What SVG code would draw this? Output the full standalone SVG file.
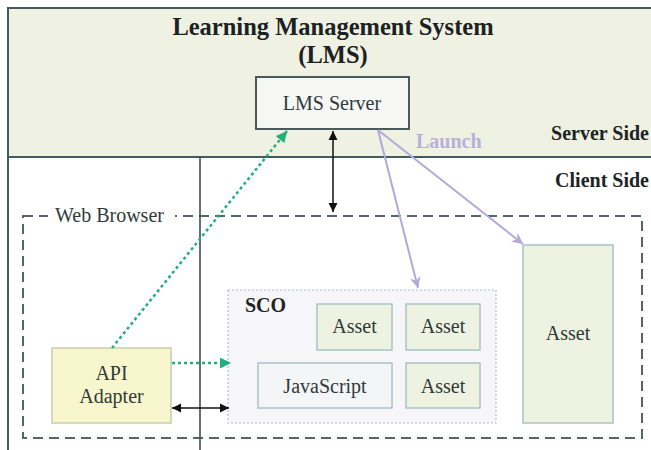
<svg xmlns="http://www.w3.org/2000/svg" width="651" height="450" viewBox="0 0 651 450">
<defs>
<marker id="ab" viewBox="0 0 10 10" refX="10" refY="5" markerWidth="9" markerHeight="10" markerUnits="userSpaceOnUse" orient="auto-start-reverse"><path d="M0,0 L10,5 L0,10 z" fill="#111"/></marker>
<marker id="ag" viewBox="0 0 10 10" refX="10" refY="5" markerWidth="12" markerHeight="11" markerUnits="userSpaceOnUse" orient="auto"><path d="M0,0 L10,5 L0,10 z" fill="#22b07a"/></marker>
<marker id="al" viewBox="0 0 10 10" refX="10" refY="5" markerWidth="13" markerHeight="11" markerUnits="userSpaceOnUse" orient="auto"><path d="M0,0 L10,5 L0,10 L3,5 z" fill="#b2a9da"/></marker>
<style>
text{font-family:"Liberation Serif","Times New Roman",serif;fill:#2f3a3a}
.t{font-size:20px}
.b{font-weight:bold}
.c{text-anchor:middle}
.asset{fill:#eef2e1;stroke:#a9c2c4;stroke-width:1.5}
.frame{fill:none;stroke:#445a62;stroke-width:2}
</style>
</defs>
<rect x="0" y="0" width="651" height="450" fill="#ffffff"/>
<g id="server-side">
<rect x="8" y="8" width="660" height="149" fill="#eff1e2"/>
<text x="333" y="35" class="b c" style="font-size:24.5px;fill:#1c2222">Learning Management System</text>
<text x="333" y="63" class="b c" style="font-size:24.5px;fill:#1c2222">(LMS)</text>
<text x="649" y="140" class="t b" text-anchor="end" style="fill:#1c2424">Server Side</text>
</g>
<g id="client-side">
<text x="649" y="187" class="t b" text-anchor="end" style="fill:#1c2424">Client Side</text>
</g>
<rect class="frame" x="8" y="8" width="660" height="460"/>
<line x1="8" y1="157" x2="651" y2="157" stroke="#445a62" stroke-width="2"/>
<g id="web-browser">
<rect x="23" y="216" width="619" height="222" fill="none" stroke="#52666e" stroke-width="2" stroke-dasharray="10,6"/>
<rect x="48" y="206" width="127" height="20" fill="#ffffff"/>
<text x="55" y="222" class="t">Web Browser</text>
</g>
<line x1="200" y1="157" x2="200" y2="450" stroke="#3e4e56" stroke-width="1.6"/>
<g id="lms-server">
<rect x="256" y="77" width="153" height="52" fill="#f6f7f5" stroke="#4a5a5c" stroke-width="2"/>
<text x="332" y="110" class="t c">LMS Server</text>
</g>
<g id="sco">
<rect x="228" y="290" width="268" height="133" fill="#f6f5f8" stroke="#a9c0d0" stroke-width="1.2" stroke-dasharray="2,2"/>
<text x="245" y="312" class="t b" style="fill:#1c2424">SCO</text>
</g>
<g id="asset-1">
<rect class="asset" x="317" y="304" width="75" height="46"/>
<text x="354.5" y="333" class="t c">Asset</text>
</g>
<g id="asset-2">
<rect class="asset" x="406" y="304" width="74" height="46"/>
<text x="443" y="333" class="t c">Asset</text>
</g>
<g id="javascript">
<rect x="258" y="363" width="134" height="45" fill="#f4f5f6" stroke="#a9c2cc" stroke-width="1.5"/>
<text x="325" y="393" class="t c">JavaScript</text>
</g>
<g id="asset-3">
<rect class="asset" x="406" y="363" width="74" height="45"/>
<text x="443" y="393" class="t c">Asset</text>
</g>
<g id="asset-big">
<rect class="asset" x="523" y="245" width="90" height="178"/>
<text x="568" y="340" class="t c">Asset</text>
</g>
<g id="api-adapter">
<rect x="52" y="348" width="119" height="75" fill="#f8f6cd" stroke="#c5ccb5" stroke-width="1.5"/>
<text x="111.5" y="380" class="t c">API</text>
<text x="111.5" y="403" class="t c">Adapter</text>
</g>
<g id="connectors">
<line x1="333" y1="131" x2="333" y2="212" stroke="#111" stroke-width="1.5" marker-start="url(#ab)" marker-end="url(#ab)"/>
<line x1="112" y1="348" x2="287" y2="131" stroke="#22b07a" stroke-width="2.5" stroke-dasharray="3,3" marker-end="url(#ag)"/>
<line x1="172" y1="363" x2="231" y2="363" stroke="#22b07a" stroke-width="2.5" stroke-dasharray="3,3" marker-end="url(#ag)"/>
<line x1="172" y1="408" x2="229" y2="408" stroke="#111" stroke-width="1.5" marker-start="url(#ab)" marker-end="url(#ab)"/>
<line x1="378" y1="130" x2="418" y2="288" stroke="#b2a9da" stroke-width="2" marker-end="url(#al)"/>
<line x1="378" y1="130" x2="523" y2="244" stroke="#b2a9da" stroke-width="2" marker-end="url(#al)"/>
<text x="416" y="148" class="t b" style="fill:#b8b0da">Launch</text>
</g>
</svg>
